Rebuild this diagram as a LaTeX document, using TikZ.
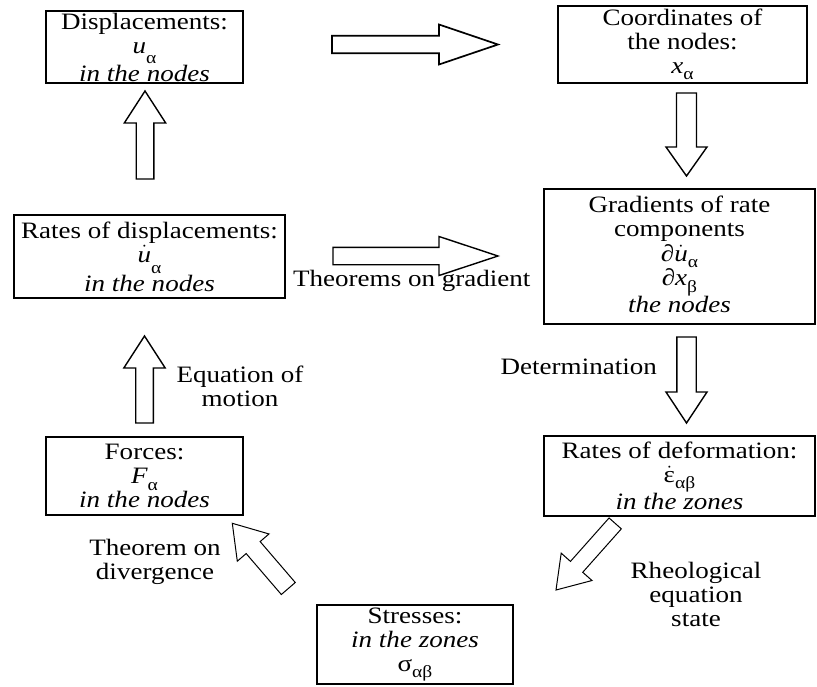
\documentclass[tikz,border=0pt]{standalone}
\usepackage{fontspec}
\setmainfont{Liberation Serif}[FakeStretch=1.15]
\usetikzlibrary{calc}
\newcommand\sbs[2][0.28em]{\raisebox{-#1}{\fontsize{17}{17}\selectfont #2}}
\newcommand\dotit[1]{$\dot{\hbox{\itshape #1}}$}
% #1 style, #2 tail, #3 tip, #4 head length, #5 shaft half width, #6 head half width
\newcommand\barrow[6]{%
  \path ($(#3)!#4!(#2)$) coordinate (hb);
  \draw[#1] ($(#2)!#5!90:(#3)$) -- ($(hb)!#5!-90:(#2)$) -- ($(hb)!#6!-90:(#2)$) -- (#3)
    -- ($(hb)!#6!90:(#2)$) -- ($(hb)!#5!90:(#2)$) -- ($(#2)!#5!-90:(#3)$) -- cycle;}
\tikzset{
  every node/.style={font=\fontsize{23.5}{24}\selectfont},
  box/.style={draw, line width=1.6pt, align=center, inner sep=0pt},
  lbl/.style={align=center, inner sep=0pt},
  arrA/.style={draw, fill=white, line width=1.7pt, line join=miter},
  arrB/.style={draw, fill=white, line width=1.4pt, line join=miter},
  arrC/.style={draw, fill=white, line width=1.0pt, line join=miter},
}
\begin{document}
\begin{tikzpicture}[x=1pt, y=-1pt]
\fill[white] (0,0) rectangle (817,686);
\useasboundingbox (0,0) rectangle (817,686);

% boxes
\node[box, minimum width=197pt, minimum height=72pt] (disp) at (144.5,47)
  {Displacements:\\ \textit{u}\sbs[0.45em]{α}\\ \textit{in the nodes}};
\node[box, minimum width=249pt, minimum height=77pt] (coord) at (682.5,44.5)
  {Coordinates of\\ the nodes:\\ \textit{x}\sbs{α}};
\node[box, minimum width=271pt, minimum height=135pt] (grad) at (679.5,256.5)
  {\raisebox{-1pt}[\height][\depth]{\begin{tabular}{@{}c@{}}
   Gradients of rate\\ components\\[1pt] ∂\dotit{u}\sbs{α}\\[0pt] ∂\textit{x}\sbs{β}\\[3pt] \textit{the nodes}
   \end{tabular}}};
\node[box, minimum width=271pt, minimum height=83pt] (rates) at (149.5,256.5)
  {Rates of displacements:\\ \dotit{u}\sbs[0.5em]{α}\\ \textit{in the nodes}};
\node[box, minimum width=197pt, minimum height=78pt] (forces) at (144.5,476)
  {Forces:\\ \textit{F}\sbs{α}\\ \textit{in the nodes}};
\node[box, minimum width=271pt, minimum height=80pt] (deform) at (679.5,476)
  {Rates of deformation:\\ $\dot{\hbox{ε}}$\sbs{αβ}\\ \textit{in the zones}};
\node[box, minimum width=196pt, minimum height=79pt] (stress) at (415,644.5)
  {Stresses:\\ \textit{in the zones}\\ σ\sbs{αβ}};

% arrow end points
\coordinate (a1t) at (332,44.5);   \coordinate (a1h) at (498,44.5);
\coordinate (a2t) at (686.5,93);   \coordinate (a2h) at (686.5,176);
\coordinate (a3t) at (333,256);    \coordinate (a3h) at (498,256);
\coordinate (a4t) at (145,179);    \coordinate (a4h) at (145,91);
\coordinate (a5t) at (144.5,423);  \coordinate (a5h) at (144.5,336);
\coordinate (a6t) at (686.5,337);  \coordinate (a6h) at (686.5,423);
\coordinate (a7t) at (615.2,523.4);\coordinate (a7h) at (556,590);
\coordinate (a8t) at (288.3,588.5);\coordinate (a8h) at (232.3,523.3);

\barrow{arrA}{a1t}{a1h}{59pt}{8.7pt}{20pt}
\barrow{arrB}{a2t}{a2h}{29pt}{10pt}{20.5pt}
\barrow{arrB}{a3t}{a3h}{59pt}{8.7pt}{19.5pt}
\barrow{arrB}{a4t}{a4h}{32pt}{8.8pt}{20.7pt}
\barrow{arrB}{a5t}{a5h}{32pt}{8.8pt}{20.7pt}
\barrow{arrB}{a6t}{a6h}{31pt}{9.7pt}{20.5pt}
\barrow{arrC}{a7t}{a7h}{31pt}{8.2pt}{20.6pt}
\barrow{arrC}{a8t}{a8h}{32pt}{9.2pt}{20.9pt}

% labels
\node[lbl, anchor=base west] (lgrad) at (293,286.5) {Theorems on gradient};
\node[lbl] (lmot) at (240,386.4) {Equation of\\ motion};
\node[lbl, anchor=base east] (ldet) at (657,374) {Determination};
\node[lbl] (ldiv) at (155,561.5) {Theorem on\\ divergence};
\node[lbl] (lrheo) at (696,594.7) {Rheological\\ equation\\ state};
\end{tikzpicture}
\end{document}
